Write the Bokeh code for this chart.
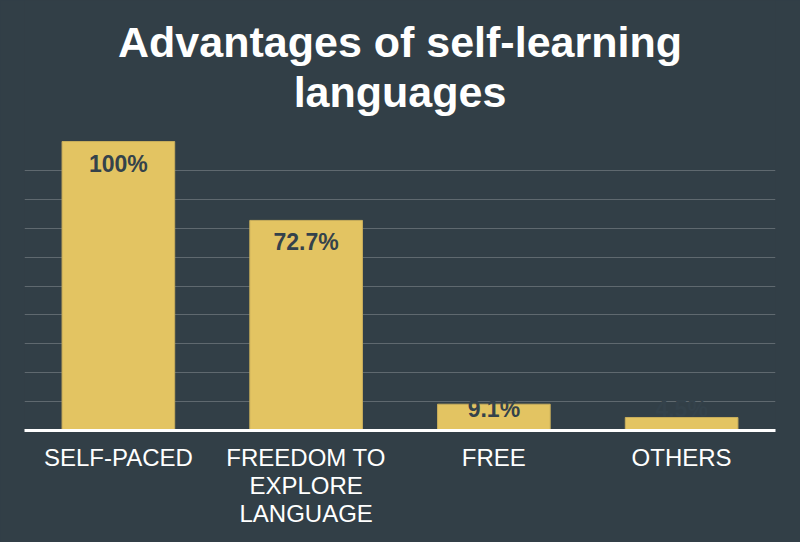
from bokeh.plotting import figure
from bokeh.models import ColumnDataSource, LabelSet, FixedTicker, Range1d, Label
from bokeh.core.properties import value
from bokeh.embed import file_html
from bokeh.resources import INLINE
import numpy as np

categories = ["SELF-PACED", "FREEDOM TO\nEXPLORE\nLANGUAGE", "FREE", "OTHERS"]
values = [100.0, 72.7, 9.1, 4.5]
value_labels = ["100%", "72.7%", "9.1%", "4.5%"]
grid_ticks = [10, 20, 30, 40, 50, 60, 70, 80, 90]
title_lines = ["Advantages of self-learning", "languages"]

BG = "#323f47"
BAR = "#e3c462"
DARK = "#34424b"

label_y = np.maximum(np.array(values), 14.9)
src = ColumnDataSource(dict(cat=categories, val=values, lab=value_labels, ly=label_y))

# frame spans canvas top down to the axis; 100% sits 141 px below the top
p = figure(x_range=categories, y_range=Range1d(0, 148.8), width=800, height=542,
           output_backend="svg", toolbar_location=None,
           min_border_left=24, min_border_right=25, min_border_top=0, min_border_bottom=112)

p.background_fill_color = BG
p.border_fill_color = BG
p.outline_line_color = None
p.outline_line_alpha = 0

for txt, ty in [(title_lines[0], 134.3), (title_lines[1], 117.0)]:
    p.add_layout(Label(x=2.0, y=ty, text=txt, text_align="center", text_baseline="alphabetic",
                       text_color="white", text_font="Liberation Sans",
                       text_font_style="bold", text_font_size="43px"))

p.vbar(x="cat", top="val", width=0.6, source=src, fill_color=BAR,
       line_color="#c8ae5c", line_width=1)

p.add_layout(LabelSet(x="cat", y="ly", text="lab", source=src, y_offset=-22,
                      text_align="center", text_baseline="middle",
                      text_font=value("Liberation Sans"), text_font_style="bold",
                      text_font_size="23px", text_color=DARK))

p.yaxis.visible = False
p.ygrid.ticker = FixedTicker(ticks=grid_ticks)
p.ygrid.grid_line_color = "white"
p.ygrid.grid_line_alpha = 0.22
p.xgrid.grid_line_color = None

ax = p.xaxis[0]
ax.axis_line_color = "white"
ax.axis_line_width = 3
ax.major_tick_line_color = None
ax.minor_tick_line_color = None
ax.major_label_text_color = "white"
ax.major_label_text_font = "Liberation Sans"
ax.major_label_text_font_size = "24px"
ax.major_label_text_line_height = 1.05
ax.major_label_standoff = 7

html = file_html(p, INLINE)
html = html.replace("</head>", "<style>html, body { background: %s !important; }</style></head>" % BG, 1)
open("out.html", "w").write(html)
